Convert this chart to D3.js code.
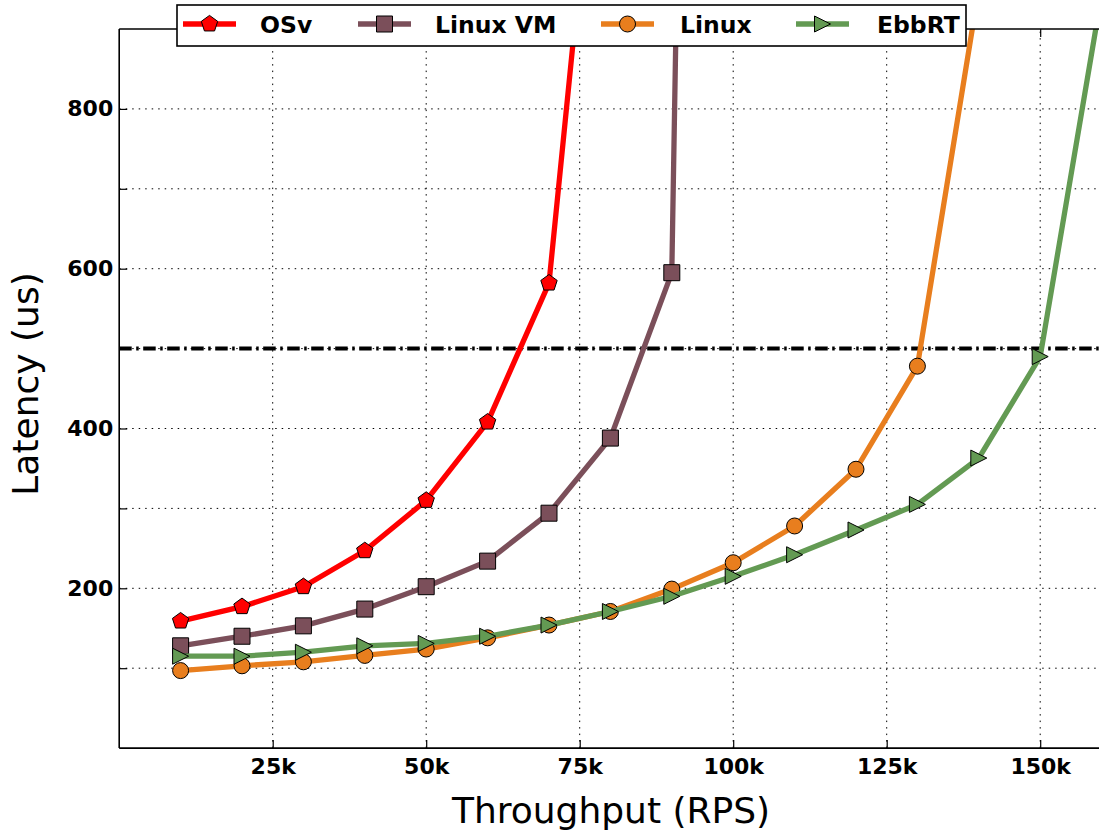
<!DOCTYPE html>
<html>
<head>
<meta charset="utf-8">
<script src="https://cdn.jsdelivr.net/npm/d3@7"></script>
<style>
  html, body { margin: 0; padding: 0; background: #fff; }
  svg { display: block; font-family: "DejaVu Sans", sans-serif; }
</style>
</head>
<body>
<svg id="chart" width="1099" height="836"></svg>
<script>
// Request rate (RPS) at which each system was measured
const osvRps     = [10000, 20000, 30000, 40000, 50000, 60000, 70000, 80000];
const linuxVmRps = [10000, 20000, 30000, 40000, 50000, 60000, 70000, 80000, 90000, 100000];
const linuxRps   = [10000, 20000, 30000, 40000, 50000, 60000, 70000, 80000, 90000, 100000, 110000, 120000, 130000, 140000];
const ebbrtRps   = [10000, 20000, 30000, 40000, 50000, 60000, 70000, 80000, 90000, 100000, 110000, 120000, 130000, 140000, 150000, 160000];

// Mean latency (us) at each rate
const osvLatency     = [159, 177, 202, 247, 310, 408, 582, 1350];
const linuxVmLatency = [128, 140, 153, 174, 202, 234, 294, 388, 595, 5100];
const linuxLatency   = [97, 103, 108, 116, 124, 138, 154, 171, 199, 232, 278, 349, 478, 950];
const ebbrtLatency   = [115, 115, 120, 128, 131, 140, 154, 171, 190, 215, 242, 273, 305, 363, 490, 943];

const seriesNames = ["OSv", "Linux VM", "Linux", "EbbRT"];

// Axis ticks
const xTickValues = [25000, 50000, 75000, 100000, 125000, 150000];
const xTickLabels = ["25k", "50k", "75k", "100k", "125k", "150k"];
const yTickValues = [100, 200, 300, 400, 500, 600, 700, 800];
const yTickLabels = ["", "200", "", "400", "", "600", "", "800"];

// Latency target
const sloLatency = 500;

const series = [
  { name: seriesNames[0], xs: osvRps,     ys: osvLatency,     color: "#ff0000", marker: "pentagon" },
  { name: seriesNames[1], xs: linuxVmRps, ys: linuxVmLatency, color: "#7b4f5a", marker: "square" },
  { name: seriesNames[2], xs: linuxRps,   ys: linuxLatency,   color: "#e87e1e", marker: "circle" },
  { name: seriesNames[3], xs: ebbrtRps,   ys: ebbrtLatency,   color: "#639a53", marker: "triright" }
];

const svg = d3.select("#chart");
const plotLeft = 119.2, plotRight = 1101.6, plotTop = 29, plotBottom = 748.1;

const x = d3.scaleLinear().domain([0, 160000]).range([plotLeft, plotRight]);
const y = d3.scaleLinear().domain([0, 900]).range([plotBottom, plotTop]);

svg.append("defs").append("clipPath").attr("id", "plotClip")
  .append("rect").attr("x", plotLeft).attr("y", plotTop)
  .attr("width", plotRight - plotLeft).attr("height", plotBottom - plotTop);

// Grid
const grid = svg.append("g").attr("stroke", "#000").attr("stroke-width", 1)
  .attr("stroke-dasharray", "1.5,5");
grid.selectAll("line.gx").data(xTickValues).join("line").attr("class", "gx")
  .attr("x1", d => x(d)).attr("x2", d => x(d))
  .attr("y1", plotBottom).attr("y2", plotTop);
grid.selectAll("line.gy").data(yTickValues).join("line").attr("class", "gy")
  .attr("x1", plotLeft).attr("x2", plotRight)
  .attr("y1", d => y(d)).attr("y2", d => y(d));

// Axes with inward ticks
const xAxis = d3.axisBottom(x).tickValues(xTickValues)
  .tickFormat((d, i) => xTickLabels[i]).tickSize(-8).tickPadding(10);
const gx = svg.append("g").attr("transform", `translate(0,${plotBottom})`).call(xAxis);
const yAxis = d3.axisLeft(y).tickValues(yTickValues)
  .tickFormat((d, i) => yTickLabels[i]).tickSize(-8).tickPadding(6);
const gy = svg.append("g").attr("transform", `translate(${plotLeft},0)`).call(yAxis);
[gx, gy].forEach(g => {
  g.select(".domain").remove();
  g.selectAll(".tick line").attr("stroke", "#000").attr("stroke-width", 1.2);
  g.selectAll(".tick text").attr("fill", "#000")
    .style("font-family", "'DejaVu Sans', sans-serif")
    .style("font-size", "22px").style("font-weight", "bold");
});
// Top ticks mirror the bottom axis
const xTop = d3.axisTop(x).tickValues(xTickValues).tickFormat("").tickSize(-8);
const gxt = svg.append("g").attr("transform", `translate(0,${plotTop})`).call(xTop);
gxt.select(".domain").remove();
gxt.selectAll(".tick line").attr("stroke", "#000").attr("stroke-width", 1.2);

// SLO line
svg.append("line")
  .attr("x1", plotLeft).attr("x2", plotRight)
  .attr("y1", y(sloLatency)).attr("y2", y(sloLatency))
  .attr("stroke", "#000").attr("stroke-width", 4)
  .attr("stroke-dasharray", "12.5,4.5,2.5,4.5");

// Marker shapes
function markerPath(kind) {
  if (kind === "square") return d3.symbol(d3.symbolSquare, 256)();
  if (kind === "circle") return d3.symbol(d3.symbolCircle, Math.PI * 64)();
  if (kind === "triright") return "M8,0L-8,-8L-8,8Z";
  // pentagon, vertex up
  const r = 8.6;
  const pts = d3.range(5).map(i => {
    const a = -Math.PI / 2 + i * 2 * Math.PI / 5;
    return [r * Math.cos(a), r * Math.sin(a)];
  });
  return "M" + pts.map(p => p.join(",")).join("L") + "Z";
}

const line = d3.line().x(d => x(d[0])).y(d => y(d[1]));
const plot = svg.append("g").attr("clip-path", "url(#plotClip)");

series.forEach(s => {
  const pts = s.xs.map((v, i) => [v, s.ys[i]]);
  const g = plot.append("g");
  g.append("path").datum(pts).attr("d", line)
    .attr("fill", "none").attr("stroke", s.color)
    .attr("stroke-width", 5.3).attr("stroke-linejoin", "round");
  g.selectAll("path.m").data(pts).join("path").attr("class", "m")
    .attr("d", markerPath(s.marker))
    .attr("transform", d => `translate(${x(d[0])},${y(d[1])})`)
    .attr("fill", s.color).attr("stroke", "#000").attr("stroke-width", 1);
});

// Spines
svg.append("line").attr("x1", plotLeft).attr("x2", plotLeft).attr("y1", plotTop).attr("y2", plotBottom)
  .attr("stroke", "#000").attr("stroke-width", 1.6);
svg.append("line").attr("x1", plotLeft).attr("x2", plotRight).attr("y1", plotBottom).attr("y2", plotBottom)
  .attr("stroke", "#000").attr("stroke-width", 1.6);
svg.append("line").attr("x1", plotLeft).attr("x2", plotRight).attr("y1", plotTop).attr("y2", plotTop)
  .attr("stroke", "#000").attr("stroke-width", 1.6);

// Axis titles
svg.append("text").attr("x", 611).attr("y", 823).attr("text-anchor", "middle")
  .style("font-size", "36px").text("Throughput (RPS)");
svg.append("text").attr("transform", "translate(38,384) rotate(-90)")
  .attr("text-anchor", "middle").style("font-size", "36px").text("Latency (us)");

// Legend
const legend = svg.append("g");
legend.append("rect").attr("x", 177).attr("y", 5).attr("width", 789).attr("height", 41)
  .attr("fill", "#fff").attr("stroke", "#000").attr("stroke-width", 1.6);
const legendX = [183, 358, 601, 796];
const textX = [260, 435, 680, 877];
series.forEach((s, i) => {
  const lx = legendX[i];
  legend.append("line").attr("x1", lx).attr("x2", lx + 53).attr("y1", 24).attr("y2", 24)
    .attr("stroke", s.color).attr("stroke-width", 5.3);
  legend.append("path").attr("d", markerPath(s.marker))
    .attr("transform", `translate(${lx + 26.5},24)`)
    .attr("fill", s.color).attr("stroke", "#000").attr("stroke-width", 1);
  legend.append("text").attr("x", textX[i]).attr("y", 33)
    .style("font-size", "23.5px").style("font-weight", "bold").text(s.name);
});
</script>
</body>
</html>
